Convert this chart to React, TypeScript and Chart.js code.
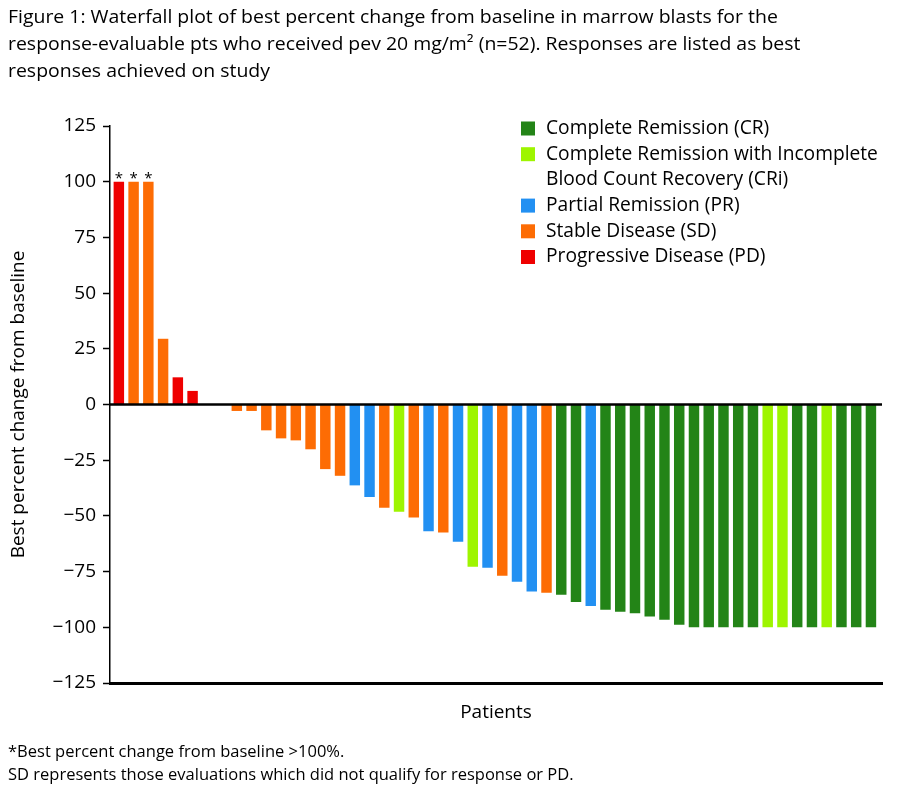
import React, { useEffect, useRef } from "react";
import { Chart, registerables } from "chart.js";

Chart.register(...registerables);

// ---------- DATA ----------
const patients = [
  1, 2, 3, 4, 5, 6, 7, 8, 9, 10, 11, 12, 13, 14, 15, 16, 17, 18, 19, 20, 21, 22, 23, 24, 25, 26,
  27, 28, 29, 30, 31, 32, 33, 34, 35, 36, 37, 38, 39, 40, 41, 42, 43, 44, 45, 46, 47, 48, 49, 50, 51, 52,
];

const bestChange = [
  100, 100, 100, 29.5, 12.2, 6.1, 0, 0, -2.9, -2.9, -11.6, -15.2, -16.1, -20.1, -29.0, -32.0,
  -36.3, -41.5, -46.3, -48.1, -50.7, -56.9, -57.4, -61.6, -72.8, -73.3, -76.9, -79.6, -83.9, -84.5,
  -85.4, -88.6, -90.4, -92.1, -93.0, -93.7, -95.2, -96.6, -98.9, -100, -100, -100, -100, -100,
  -100, -100, -100, -100, -100, -100, -100, -100,
];

const response = [
  "PD", "SD", "SD", "SD", "PD", "PD", "SD", "SD", "SD", "SD", "SD", "SD", "SD", "SD", "SD", "SD",
  "PR", "PR", "SD", "CRi", "SD", "PR", "SD", "PR", "CRi", "PR", "SD", "PR", "PR", "SD",
  "CR", "CR", "PR", "CR", "CR", "CR", "CR", "CR", "CR", "CR", "CR", "CR", "CR", "CR",
  "CRi", "CRi", "CR", "CR", "CRi", "CR", "CR", "CR",
];

// true where the best change exceeded 100% (bar capped at 100, marked with *)
const over100 = [true, true, true];

const legendKeys = ["CR", "CRi", "PR", "SD", "PD"];
const legendLabels = [
  ["Complete Remission (CR)"],
  ["Complete Remission with Incomplete", "Blood Count Recovery (CRi)"],
  ["Partial Remission (PR)"],
  ["Stable Disease (SD)"],
  ["Progressive Disease (PD)"],
];

const yTicks = { min: -125, max: 125, step: 25 };

const titleLines = [
  "Figure 1: Waterfall plot of best percent change from baseline in marrow blasts for the",
  "response-evaluable pts who received pev 20 mg/m\u00B2 (n=52). Responses are listed as best",
  "responses achieved on study",
];
const footnoteLines = [
  "*Best percent change from baseline >100%.",
  "SD represents those evaluations which did not qualify for response or PD.",
];
const xTitle = "Patients";
const yTitle = "Best percent change from baseline";

// ---------- STYLE ----------
const COLORS: Record<string, string> = {
  CR: "#238417",
  CRi: "#9ef500",
  PR: "#2290f2",
  SD: "#fd6c04",
  PD: "#ef0000",
};
const FONT = "'Open Sans', 'Noto Sans', sans-serif";

const textPlugin = {
  id: "annotations",
  beforeDraw(chart: any) {
    const { ctx, width, height } = chart;
    ctx.save();
    ctx.fillStyle = "#fff";
    ctx.fillRect(0, 0, width, height);
    ctx.restore();
  },
  afterDatasetsDraw(chart: any) {
    const { ctx, chartArea, scales } = chart;
    const y = scales.y;
    ctx.save();
    // zero line
    const y0 = y.getPixelForValue(0);
    ctx.strokeStyle = "#000";
    ctx.lineWidth = 2.5;
    ctx.beginPath();
    ctx.moveTo(chartArea.left, y0);
    ctx.lineTo(chartArea.right, y0);
    ctx.stroke();

    // asterisks
    const meta = chart.getDatasetMeta(0);
    ctx.fillStyle = "#000";
    ctx.font = `15px ${FONT}`;
    ctx.textAlign = "center";
    ctx.textBaseline = "alphabetic";
    meta.data.forEach((bar: any, i: number) => {
      if (over100[i]) ctx.fillText("*", bar.x, bar.y + 1);
    });

    // title (slightly widened to match the reference typeface)
    ctx.textAlign = "left";
    ctx.font = `18px ${FONT}`;
    titleLines.forEach((t, i) => {
      ctx.save();
      ctx.translate(8, 23 + i * 27);
      ctx.scale(1.08, 1);
      ctx.fillText(t, 0, 0);
      ctx.restore();
    });

    // footnotes
    ctx.font = `16.5px ${FONT}`;
    footnoteLines.forEach((t, i) => ctx.fillText(t, 8, 757 + i * 23));

    // x title
    ctx.font = `19px ${FONT}`;
    ctx.textAlign = "center";
    ctx.textBaseline = "middle";
    ctx.fillText(xTitle, (chartArea.left + chartArea.right) / 2, 713);

    // y title
    ctx.save();
    ctx.translate(19, (chartArea.top + chartArea.bottom) / 2);
    ctx.rotate(-Math.PI / 2);
    ctx.fillText(yTitle, 0, 0);
    ctx.restore();

    // legend
    ctx.textAlign = "left";
    ctx.textBaseline = "middle";
    ctx.font = `19.2px ${FONT}`;
    let row = 0;
    const lx = 521;
    const ly = 128.5;
    const lh = 25.7;
    legendKeys.forEach((k, i) => {
      const cy = ly + row * lh;
      ctx.fillStyle = COLORS[k];
      ctx.fillRect(lx, cy - 7, 14, 14);
      ctx.fillStyle = "#000";
      legendLabels[i].forEach((line, j) => {
        ctx.fillText(line, lx + 25, ly + (row + j) * lh);
      });
      row += legendLabels[i].length;
    });
    ctx.restore();
  },
};

export default function App() {
  const ref = useRef<HTMLCanvasElement | null>(null);
  useEffect(() => {
    if (!ref.current) return;
    const chart = new Chart(ref.current, {
      type: "bar",
      data: {
        datasets: [
          {
            data: patients.map((p, i) => ({ x: p, y: bestChange[i] })),
            backgroundColor: response.map((r) => COLORS[r]),
            borderWidth: 0,
            barPercentage: 0.71,
            categoryPercentage: 1,
          },
        ],
      },
      options: {
        responsive: false,
        animation: false,
        events: [],
        layout: { padding: { top: 126, right: 18, bottom: 105, left: 0 } },
        plugins: { legend: { display: false }, tooltip: { enabled: false }, title: { display: false } },
        scales: {
          x: {
            type: "linear",
            offset: false,
            min: 0.4,
            max: 52.75,
            ticks: { display: false },
            grid: { display: false, drawTicks: false, offset: false },
            border: { display: true, color: "#000", width: 3 },
            afterFit: (s: any) => {
              s.height = 0;
            },
          },
          y: {
            min: yTicks.min,
            max: yTicks.max,
            ticks: {
              stepSize: yTicks.step,
              color: "#000",
              padding: 7,
              font: { family: FONT, size: 19 },
              callback: (v: any) => (Number(v) < 0 ? "\u2212" + Math.abs(Number(v)) : String(v)),
            },
            grid: { drawOnChartArea: false, drawTicks: true, tickLength: 7, tickColor: "#000", tickWidth: 1.5 },
            border: { display: true, color: "#000", width: 1.5 },
            afterFit: (s: any) => {
              s.width = 110;
            },
          },
        },
      },
      plugins: [textPlugin],
    });
    return () => chart.destroy();
  }, []);
  return (
    <div style={{ position: "absolute", left: 0, top: 0, width: 900, height: 788, background: "#fff" }}>
      <canvas ref={ref} width={900} height={788} style={{ display: "block" }} />
    </div>
  );
}
